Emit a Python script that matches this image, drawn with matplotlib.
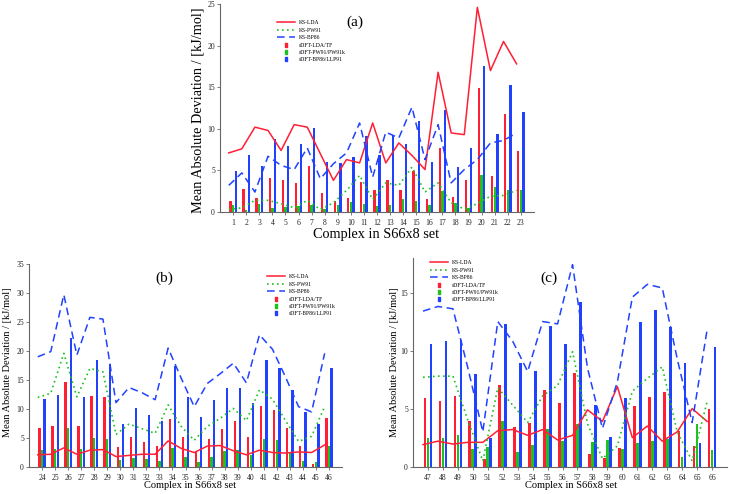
import matplotlib.pyplot as plt
import numpy as np
from matplotlib.lines import Line2D

plt.rcParams['font.family'] = ['Liberation Serif', 'DejaVu Serif']

# panel (a): complexes 1-23
cx_a = np.arange(1, 24)
ks_lda_a = [7.1, 7.6, 10.2, 9.8, 7.4, 10.5, 10.2, 7.0, 3.8, 6.3, 5.9, 10.7, 5.9, 8.3, 6.8, 5.1,
            16.8, 9.5, 9.3, 24.6, 17.0, 20.5, 17.8]
ks_pw91_a = [0.3, 0.5, 1.4, 1.4, 1.0, 0.5, 1.4, 0.3, 1.1, 2.6, 4.4, 1.5, 3.5, 3.2, 5.4, 2.4,
             3.5, 1.1, 0.35, 1.0, 1.9, 2.0, 2.6]
ks_bp86_a = [3.2, 4.7, 2.4, 6.7, 5.6, 5.1, 7.7, 4.0, 5.8, 7.1, 10.7, 4.2, 9.6, 8.9, 12.6, 6.3,
             10.5, 3.5, 5.1, 6.3, 8.3, 8.6, 9.5]
sdft_lda_a = [1.3, 2.8, 1.7, 4.1, 3.85, 3.5, 5.55, 2.3, 1.3, 1.7, 3.6, 2.7, 3.85, 2.7, 4.95, 1.55,
              7.75, 1.85, 3.9, 14.95, 4.3, 11.75, 7.3]
sdft_pw91_a = [0.9, 0.3, 1.0, 0.5, 0.6, 0.75, 0.9, 0.35, 0.9, 1.25, 1.0, 0.75, 0.85, 1.55, 1.35, 0.85,
               2.5, 1.1, 0.5, 4.5, 3.05, 2.6, 2.7]
sdft_bp86_a = [4.9, 6.9, 5.5, 8.8, 7.9, 8.2, 10.15, 6.0, 5.85, 6.65, 9.1, 6.9, 9.3, 8.2, 10.95, 6.05,
               12.25, 5.45, 7.7, 17.5, 9.35, 15.25, 12.0]

# panel (b): complexes 24-46
cx_b = np.arange(24, 47)
ks_lda_b = [2.1, 2.2, 3.3, 2.2, 2.9, 3.0, 1.8, 2.0, 2.2, 2.2, 4.5, 3.2, 2.5, 3.6, 3.7, 2.8,
            2.1, 2.9, 2.5, 2.4, 2.6, 2.5, 3.8]
ks_pw91_b = [12.0, 12.7, 19.6, 12.1, 17.0, 16.4, 5.6, 7.4, 6.6, 5.8, 10.7, 7.0, 4.6, 7.0, 8.4, 10.1,
             8.0, 13.3, 11.7, 8.0, 4.4, 5.3, 10.4]
ks_bp86_b = [19.0, 19.9, 29.7, 19.3, 25.8, 25.5, 11.1, 13.7, 12.8, 11.6, 20.5, 15.3, 10.4, 14.4, 16.1, 17.9,
             14.5, 22.8, 20.3, 15.5, 10.4, 9.5, 19.6]
sdft_lda_b = [6.7, 7.1, 14.7, 7.0, 12.2, 12.1, 3.4, 5.1, 4.3, 3.6, 8.2, 5.1, 2.6, 4.9, 6.6, 7.9,
              5.2, 10.5, 9.8, 6.8, 3.7, 0.5, 8.5]
sdft_pw91_b = [2.9, 3.1, 6.7, 3.1, 5.0, 4.9, 1.15, 1.5, 1.4, 1.0, 3.2, 1.8, 0.9, 1.7, 2.7, 2.9,
               2.1, 4.9, 4.7, 2.6, 1.0, 0.8, 3.7]
sdft_bp86_b = [11.7, 12.4, 22.3, 12.1, 18.4, 17.8, 7.5, 10.2, 8.9, 7.9, 17.4, 12.1, 8.6, 11.6, 13.7, 13.7,
               11.0, 18.4, 17.0, 13.2, 9.5, 7.5, 17.0]

# panel (c): complexes 47-66
cx_c = np.arange(47, 67)
ks_lda_c = [1.9, 2.2, 1.95, 2.1, 2.1, 3.1, 3.2, 2.7, 3.2, 2.3, 2.7, 4.9, 3.9, 6.9, 2.5, 3.5,
            2.2, 3.0, 5.0, 3.9]
ks_pw91_c = [7.7, 7.8, 7.8, 4.0, 0.5, 6.8, 5.3, 3.8, 6.1, 7.0, 9.9, 3.7, 0.7, 1.8, 6.5, 7.6,
             8.6, 3.0, 0.5, 5.6]
ks_bp86_c = [13.4, 13.8, 13.6, 8.5, 3.0, 12.5, 10.8, 8.2, 12.5, 12.3, 17.4, 8.5, 3.3, 7.3, 14.6, 15.7,
             15.4, 9.3, 3.8, 11.8]
sdft_lda_c = [5.9, 5.65, 6.05, 3.9, 0.65, 7.0, 3.45, 3.8, 6.6, 5.5, 8.1, 1.1, 0.75, 1.6, 5.2, 6.0,
              6.4, 3.1, 1.8, 5.0]
sdft_pw91_c = [2.5, 2.45, 2.7, 1.55, 1.7, 3.9, 1.25, 1.9, 3.25, 2.2, 3.7, 2.1, 2.3, 1.5, 2.0, 2.2,
               2.4, 0.85, 3.7, 1.4]
sdft_bp86_c = [10.6, 10.8, 10.9, 8.0, 2.5, 12.3, 8.9, 8.25, 12.1, 10.6, 14.2, 5.3, 2.6, 5.9, 12.5, 13.5,
               12.0, 8.9, 2.0, 10.3]

labels = ['KS-LDA', 'KS-PW91', 'KS-BP86', 'sDFT-LDA/TF', 'sDFT-PW91/PW91k', 'sDFT-BP86/LLP91']

RED = '#ff1f35'
GREEN = '#1ec21e'
BLUE = '#2042ff'
DOT = (0, (1, 2))
DASH = (0, (5, 3))
bar_marker = [(-0.5, -1), (0.5, -1), (0.5, 1), (-0.5, 1), (-0.5, -1)]


def draw_panel(ax, x, lda, pw91, bp86, s_lda, s_pw91, s_bp86, xlim, ylim, tag, tag_xy, leg_xy,
               fs_lab, ylab_xy, xlab_xy):
    ax.bar(x - 0.2, s_lda, 0.18, color=RED, zorder=2)
    ax.bar(x, s_pw91, 0.18, color=GREEN, zorder=2)
    ax.bar(x + 0.2, s_bp86, 0.18, color=BLUE, zorder=2)
    ax.plot(x - 0.33, lda, color=RED, lw=1.1, zorder=3)
    ax.plot(x - 0.33, pw91, color=GREEN, lw=1.2, ls=DOT, zorder=3)
    ax.plot(x - 0.33, bp86, color=BLUE, lw=1.1, ls=DASH, zorder=3)

    ax.set_xlim(*xlim)
    ax.set_ylim(0, ylim)
    ax.set_xticks(x)
    ax.set_yticks(np.arange(0, ylim + 0.1, 5))
    for s in ['top', 'right']:
        ax.spines[s].set_visible(False)
    for s in ['left', 'bottom']:
        ax.spines[s].set_color('#666666')
        ax.spines[s].set_linewidth(0.8)
    ax.tick_params(direction='out', length=2.2, width=0.6, colors='#666666', labelcolor='#222222',
                   labelsize=5.5, pad=1.5)
    ax.tick_params(axis='x', pad=3)

    ax.set_ylabel('Mean Absolute Deviation / [kJ/mol]', fontsize=fs_lab)
    ax.set_xlabel('Complex in S66x8 set', fontsize=fs_lab)
    ax.yaxis.set_label_coords(*ylab_xy)
    ax.xaxis.set_label_coords(*xlab_xy)

    ax.text(tag_xy[0], tag_xy[1], tag, transform=ax.transAxes, ha='center', va='center', fontsize=11)

    handles = [
        Line2D([], [], color=RED, lw=1.1),
        Line2D([], [], color=GREEN, lw=1.2, ls=DOT),
        Line2D([], [], color=BLUE, lw=1.1, ls=DASH),
        Line2D([], [], color=RED, marker=bar_marker, ms=3.4, ls='none'),
        Line2D([], [], color=GREEN, marker=bar_marker, ms=3.4, ls='none'),
        Line2D([], [], color=BLUE, marker=bar_marker, ms=3.4, ls='none'),
    ]
    ax.legend(handles, labels, loc='upper left', bbox_to_anchor=leg_xy, frameon=False, fontsize=4.1,
              handlelength=3.2, handletextpad=0.7, labelspacing=0.42, borderpad=0, borderaxespad=0)


fig = plt.figure(figsize=(7.29, 4.94), dpi=100)
ax_a = fig.add_axes([220 / 729, 1 - 212 / 494, 314 / 729, 208 / 494])
ax_b = fig.add_axes([29 / 729, 1 - 467 / 494, 313 / 729, 203 / 494])
ax_c = fig.add_axes([413 / 729, 1 - 466.7 / 494, 314 / 729, 209 / 494])

draw_panel(ax_a, cx_a, ks_lda_a, ks_pw91_a, ks_bp86_a, sdft_lda_a, sdft_pw91_a, sdft_bp86_a,
           (0, 24), 25, '(a)', (0.43, 0.913), (0.18, 0.921), 10.3, (-0.048, 0.49), (0.497, -0.077))
draw_panel(ax_b, cx_b, ks_lda_b, ks_pw91_b, ks_bp86_b, sdft_lda_b, sdft_pw91_b, sdft_bp86_b,
           (23, 47), 35, '(b)', (0.431, 0.931), (0.76, 0.949), 7.5, (-0.054, 0.517), (0.514, -0.069))
draw_panel(ax_c, cx_c, ks_lda_c, ks_pw91_c, ks_bp86_c, sdft_lda_c, sdft_pw91_c, sdft_bp86_c,
           (46, 67), 18, '(c)', (0.433, 0.903), (0.054, 0.987), 7.5, (-0.044, 0.5), (0.503, -0.068))

fig.savefig('out.png', dpi=100)
